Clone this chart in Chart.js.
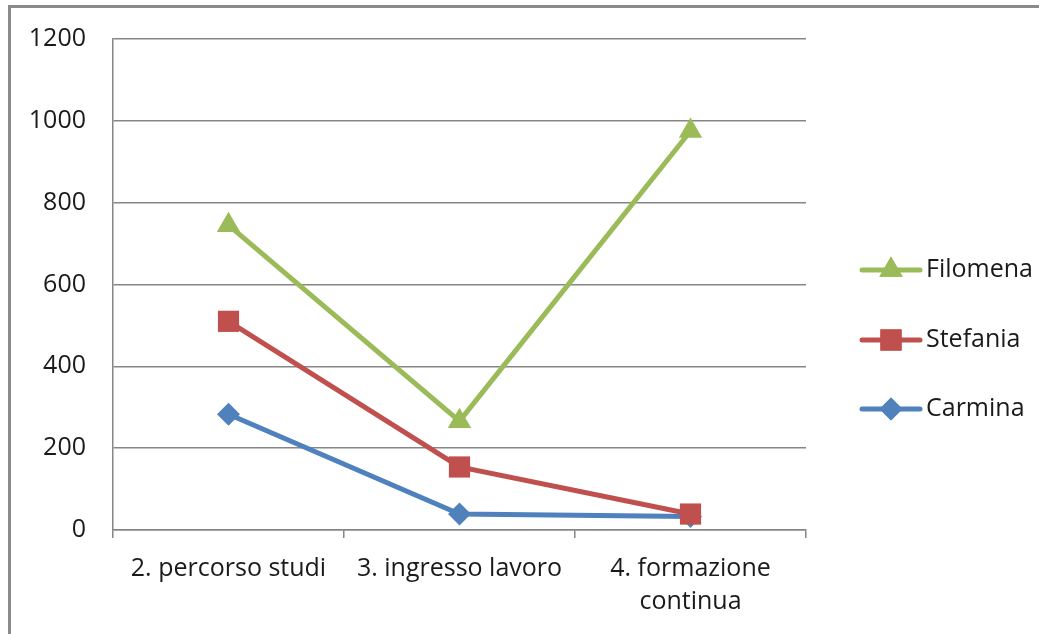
<!DOCTYPE html>
<html lang="it">
<head>
<meta charset="UTF-8">
<title>grafico</title>
<script src="https://cdn.jsdelivr.net/npm/chart.js@4/dist/chart.umd.min.js"></script>
<style>
  html, body { margin: 0; padding: 0; background: #fff; }
  #wrap { width: 1039px; height: 634px; }
</style>
</head>
<body>
<div id="wrap"><canvas id="grafico" width="1039" height="634"></canvas></div>
<script>
// dati
const categorie = ['2. percorso studi', '3. ingresso lavoro', ['4. formazione', 'continua']];
const filomena = [745, 266, 975];
const stefania = [510, 154, 39];
const carmina = [283, 39, 33];
const yTicks = { min: 0, max: 1200, step: 200 };

const FONT = "'Open Sans', 'Noto Sans', sans-serif";
const FSIZE = 25;

// bordo esterno (solo sopra e a sinistra, come nell'originale)
const bordo = {
  id: 'bordo',
  beforeDraw(chart) {
    const c = chart.ctx;
    c.save();
    c.fillStyle = '#fff';
    c.fillRect(0, 0, chart.width, chart.height);
    c.strokeStyle = '#8a8a8a';
    c.lineWidth = 3;
    c.beginPath();
    c.moveTo(9.5, chart.height);
    c.lineTo(9.5, 6.5);
    c.lineTo(chart.width, 6.5);
    c.stroke();
    c.restore();
  }
};

// legenda stile Excel: linea + marcatore
const legenda = {
  id: 'legenda',
  afterDraw(chart) {
    const c = chart.ctx;
    const x0 = 862, x1 = 920, tx = 926;
    const ys = [270, 340, 409];
    c.save();
    chart.data.datasets.forEach((ds, i) => {
      const y = ys[i];
      c.strokeStyle = ds.borderColor;
      c.lineWidth = 5;
      c.lineCap = 'round';
      c.beginPath();
      c.moveTo(x0, y);
      c.lineTo(x1, y);
      c.stroke();
      c.fillStyle = ds.borderColor;
      Chart.helpers.drawPoint(c, {
        pointStyle: ds.pointStyle,
        radius: ds.pointRadius,
        rotation: 0,
        borderWidth: 0
      }, (x0 + x1) / 2, y);
      c.fill();
      c.fillStyle = '#1a1a1a';
      c.font = FSIZE + 'px ' + FONT;
      c.textBaseline = 'middle';
      c.textAlign = 'left';
      c.fillText(ds.label, tx, y);
    });
    c.restore();
  }
};

new Chart(document.getElementById('grafico'), {
  type: 'line',
  data: {
    labels: categorie,
    datasets: [
      {
        label: 'Filomena', data: filomena,
        borderColor: '#9bbb59', backgroundColor: '#9bbb59',
        pointStyle: 'triangle', pointRadius: 13.5
      },
      {
        label: 'Stefania', data: stefania,
        borderColor: '#c0504d', backgroundColor: '#c0504d',
        pointStyle: 'rect', pointRadius: 15
      },
      {
        label: 'Carmina', data: carmina,
        borderColor: '#4f81bd', backgroundColor: '#4f81bd',
        pointStyle: 'rectRot', pointRadius: 11.5
      }
    ]
  },
  options: {
    responsive: false,
    animation: false,
    events: [],
    elements: {
      line: { borderWidth: 5, tension: 0 },
      point: { borderWidth: 0 }
    },
    layout: { padding: { top: 39, right: 233, left: 0, bottom: 0 } },
    scales: {
      x: {
        offset: true,
        grid: {
          offset: true,
          drawOnChartArea: false,
          color: '#868686',
          tickLength: 8,
          lineWidth: 1.5
        },
        border: { color: '#868686', width: 1.5 },
        ticks: {
          color: '#1a1a1a',
          padding: 15,
          maxRotation: 0,
          font: { family: FONT, size: FSIZE, lineHeight: 1.3 }
        },
        afterFit(scale) {
          scale.height = 104;
          scale.paddingLeft = 0;
          scale.paddingRight = 0;
        }
      },
      y: {
        min: yTicks.min,
        max: yTicks.max,
        ticks: {
          stepSize: yTicks.step,
          color: '#1a1a1a',
          padding: 27,
          font: { family: FONT, size: FSIZE },
          callback: v => String(v)
        },
        grid: { color: '#868686', lineWidth: 1.5, drawTicks: false },
        border: { color: '#868686', width: 1.5 },
        afterFit(scale) {
          scale.width = 113;
          scale.paddingTop = 0;
          scale.paddingBottom = 0;
        }
      }
    },
    plugins: {
      legend: { display: false },
      tooltip: { enabled: false }
    }
  },
  plugins: [bordo, legenda]
});
</script>
</body>
</html>
